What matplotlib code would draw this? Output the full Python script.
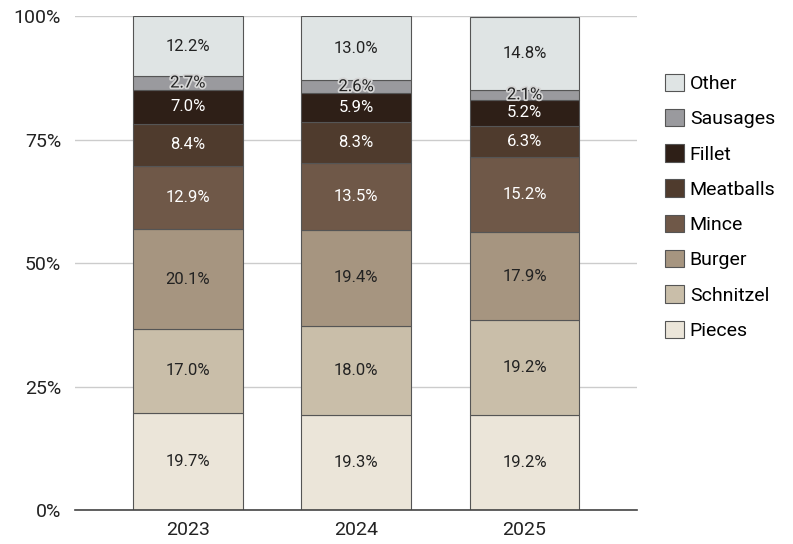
import matplotlib.pyplot as plt
import matplotlib.patheffects as pe
import numpy as np

plt.rcParams['font.family'] = ['Roboto', 'DejaVu Sans']

# data (percent shares)
years = ['2023', '2024', '2025']
categories = ['Pieces', 'Schnitzel', 'Burger', 'Mince', 'Meatballs', 'Fillet', 'Sausages', 'Other']
pieces = [19.7, 19.3, 19.2]
schnitzel = [17.0, 18.0, 19.2]
burger = [20.1, 19.4, 17.9]
mince = [12.9, 13.5, 15.2]
meatballs = [8.4, 8.3, 6.3]
fillet = [7.0, 5.9, 5.2]
sausages = [2.7, 2.6, 2.1]
other = [12.2, 13.0, 14.8]

series = [pieces, schnitzel, burger, mince, meatballs, fillet, sausages, other]
colors = ['#ebe5d9', '#c9bea9', '#a69580', '#6f5848', '#4f3b2d', '#2e1f17', '#9a9a9e', '#dfe4e4']
text_colors = ['#222222', '#222222', '#222222', 'white', 'white', 'white', '#222222', '#222222']

fig = plt.figure(figsize=(7.93, 5.44), dpi=100)
ax = fig.add_axes([0.0946, 0.0625, 0.709, 0.908])

x = np.arange(len(years))
bottom = np.zeros(len(years))
handles = []
for vals, name, col, tcol in zip(series, categories, colors, text_colors):
    bars = ax.bar(x, vals, width=0.65, bottom=bottom, color=col, edgecolor='#555555',
                  linewidth=0.8, label=name, zorder=3)
    handles.append(bars)
    for xi, b, v in zip(x, bottom, vals):
        t = ax.text(xi, b + v / 2, f'{v:.1f}%', ha='center', va='center',
                    color=tcol, fontsize=12, zorder=4)
        if name == 'Sausages':
            t.set_path_effects([pe.withStroke(linewidth=2.5, foreground='#d5d5d5')])
    bottom += np.array(vals)

ax.set_xlim(-0.67, 2.67)
ax.set_ylim(0, 100)
ax.set_xticks(x)
ax.set_xticklabels(years)
ax.set_yticks([0, 25, 50, 75, 100])
ax.set_yticklabels(['0%', '25%', '50%', '75%', '100%'])
ax.tick_params(axis='both', length=0, labelsize=14, colors='#222222')
ax.tick_params(axis='y', pad=10)
ax.tick_params(axis='x', pad=8)
ax.grid(axis='y', color='#cccccc', linewidth=1, zorder=0)
for s in ['top', 'right', 'left']:
    ax.spines[s].set_visible(False)
ax.spines['bottom'].set_color('#444444')
ax.spines['bottom'].set_linewidth(1.2)
ax.spines['bottom'].set_zorder(5)

leg = fig.legend(handles[::-1], categories[::-1], loc='upper left',
                 bbox_to_anchor=(0.816, 0.897), frameon=False, fontsize=14,
                 handlelength=1.0, handleheight=1.0, handletextpad=0.3,
                 labelspacing=0.82)
for h in leg.legend_handles:
    h.set_edgecolor('#555555')

fig.savefig('out.png', dpi=100)
